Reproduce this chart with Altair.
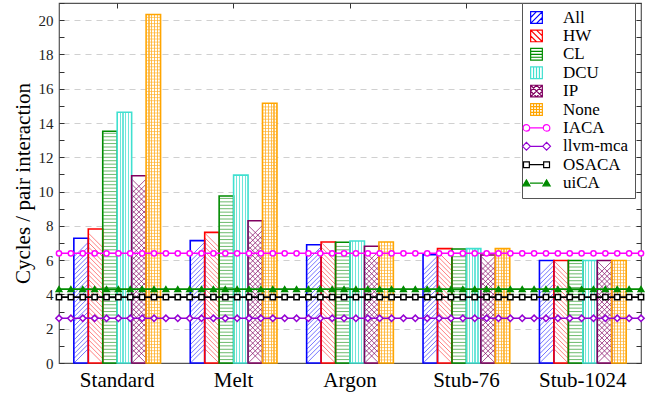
import altair as alt
import pandas as pd

# ---------------- data ----------------
benches = ["Standard", "Melt", "Argon", "Stub-76", "Stub-1024"]
series = ["All", "HW", "CL", "DCU", "IP", "None"]
all_v = [7.28, 7.14, 6.90, 6.32, 5.98]
hw_v = [7.82, 7.62, 7.06, 6.67, 5.98]
cl_v = [13.52, 9.74, 7.04, 6.65, 5.98]
dcu_v = [14.63, 10.96, 7.12, 6.67, 5.98]
ip_v = [10.92, 8.30, 6.81, 6.30, 5.98]
none_v = [20.33, 15.15, 7.06, 6.67, 5.98]

tools = ["IACA", "llvm-mca", "OSACA", "uiCA"]
tool_values = [6.40, 2.61, 3.84, 4.31]
marker_positions = list(range(50))

y_tick_values = list(range(0, 22))

# ---------------- styles ----------------
FONT = "Liberation Serif"
series_colors = ["#0000ff", "#ff0000", "#008b00", "#40e0d0", "#800060", "#ffa500"]
tool_colors = ["#ff00ff", "#9400d3", "#000000", "#008b00"]
names = series + tools
fill_range = ["white"] * 9 + ["#008b00"]

series_vals = [all_v, hw_v, cl_v, dcu_v, ip_v, none_v]
bars_df = pd.DataFrame(
    [{"bench": b, "name": s, "value": vals[i]}
     for s, vals in zip(series, series_vals) for i, b in enumerate(benches)]
)
lines_df = pd.DataFrame(
    [{"name": t, "pos": p, "value": v}
     for t, v in zip(tools, tool_values) for p in marker_positions]
)
legend_df = pd.DataFrame({"name": names})

stroke_scale = alt.Scale(domain=names, range=series_colors + tool_colors)
y_scale = alt.Scale(domain=[0, 21], nice=False, zero=True)
x_scale = alt.Scale(domain=benches, paddingInner=0.255, paddingOuter=0.1275)
off_scale = alt.Scale(domain=series, paddingInner=0, paddingOuter=0)


def fmt(v):
    return f"{v:.3f}".rstrip("0").rstrip(".")


# legend symbol paths (unit = sqrt(size)/2 px)
A = 0.9
SQ = f"M{-A},{-A}H{A}V{A}H{-A}Z"


def seg(x1, y1, x2, y2):
    return f"M{fmt(x1)},{fmt(y1)}L{fmt(x2)},{fmt(y2)}"


def slash(cs):
    out = ""
    for c in cs:
        xa, xb = max(-A, c - A), min(A, c + A)
        out += seg(xa, c - xa, xb, c - xb)
    return out


def bslash(cs):
    out = ""
    for c in cs:
        xa, xb = max(-A, c - A), min(A, c + A)
        out += seg(xa, xa - c, xb, xb - c)
    return out


def hlines(ys):
    return "".join(seg(-A, y, A, y) for y in ys)


def vlines(xs):
    return "".join(seg(x, -A, x, A) for x in xs)


C = 1.55


def circle(cx, r):
    return (f"M{fmt(cx + r)},0A{r},{r} 0 1,0 {fmt(cx - r)},0"
            f"A{r},{r} 0 1,0 {fmt(cx + r)},0Z")


def diamond(cx, r):
    return f"M{fmt(cx - r)},0L{fmt(cx)},{-r}L{fmt(cx + r)},0L{fmt(cx)},{r}Z"


def square(cx, r):
    return f"M{fmt(cx - r)},{-r}H{fmt(cx + r)}V{r}H{fmt(cx - r)}Z"


def tri(cx):
    return f"M{fmt(cx - 0.55)},0.42L{fmt(cx)},-0.5L{fmt(cx + 0.55)},0.42Z"


legend_paths = [
    SQ + slash([-A, 0, A]),
    SQ + bslash([-A, 0, A]),
    SQ + hlines([-A / 2, 0, A / 2]),
    SQ + vlines([-A / 2, 0, A / 2]),
    SQ + slash([-A, 0, A]) + bslash([-A, 0, A]),
    SQ + hlines([-A / 2, 0, A / 2]) + vlines([-A / 2, 0, A / 2]),
    circle(-C, 0.5) + circle(C, 0.5) + f"M{fmt(-C + 0.5)},0H{fmt(C - 0.5)}",
    diamond(-C, 0.6) + diamond(C, 0.6) + f"M{fmt(-C + 0.6)},0H{fmt(C - 0.6)}",
    square(-C, 0.45) + square(C, 0.45) + f"M{fmt(-C + 0.45)},0H{fmt(C - 0.45)}",
    tri(-C) + tri(C) + f"M{fmt(-C + 0.55)},0H{fmt(C - 0.55)}",
]


def stripes(color, cells, w):
    stops = [alt.GradientStop(offset=0, color="white")]
    for k in range(1, cells):
        c = k / cells
        stops += [
            alt.GradientStop(offset=c - w / 2, color="white"),
            alt.GradientStop(offset=c - w / 2, color=color),
            alt.GradientStop(offset=c + w / 2, color=color),
            alt.GradientStop(offset=c + w / 2, color="white"),
        ]
    stops.append(alt.GradientStop(offset=1, color="white"))
    return alt.LinearGradient(gradient="linear", stops=stops, x1=0, x2=1, y1=0, y2=0)


leg = alt.Legend(title=None, orient="none", legendX=463, legendY=0,
                 labelFont=FONT, labelFontSize=17, labelColor="black",
                 symbolSize=169, symbolStrokeWidth=1.2, symbolOpacity=1,
                 labelOffset=18, padding=6, rowPadding=0.4,
                 strokeColor="#555", fillColor="white")

stroke_enc = alt.Stroke("name:N", scale=stroke_scale, legend=leg)

x_none = alt.X("bench:N", scale=x_scale, axis=None)
off = alt.XOffset("name:N", scale=off_scale)
y_none = alt.Y("value:Q", scale=y_scale, axis=None)

base = alt.Chart(bars_df)

bg = base.mark_bar(fill="white", strokeWidth=0).encode(
    x=alt.X("bench:N", scale=x_scale, title=None,
            axis=alt.Axis(orient="bottom", labelAngle=0, labelFont=FONT, labelFontSize=21,
                          labelColor="black", domain=False, tickSize=5, tickColor="#333",
                          offset=-5, labelPadding=6)),
    xOffset=off,
    y=alt.Y("value:Q", scale=y_scale, title="Cycles / pair interaction",
            axis=alt.Axis(orient="left", values=y_tick_values, domain=False, offset=-5,
                          labelFont=FONT, labelFontSize=15, labelColor="#222",
                          labelExpr="datum.value % 2 ? '' : datum.label",
                          tickSize=5, tickColor="#333", labelPadding=6,
                          titleFont=FONT, titleFontSize=21, titleFontWeight="normal",
                          titleColor="black", titlePadding=5,
                          grid=False)),
)

grid_layer = base.mark_bar(fillOpacity=0, strokeWidth=0).encode(
    x=x_none, xOffset=off,
    y=alt.Y("value:Q", scale=y_scale, title=None,
            axis=alt.Axis(orient="right", values=y_tick_values, labels=False, domain=False,
                          ticks=False, grid=True, gridColor="#d0d0d0", gridDash=[6, 5],
                          gridWidth=1.2,
                          gridOpacity={"condition": {"test": "datum.value % 2 == 1 || datum.value == 0",
                                                     "value": 0}, "value": 1})),
)

dcu_stripes = base.transform_filter("datum.name == 'DCU'").mark_bar(
    fill=stripes("#6fe6da", 5, 0.08), strokeWidth=0
).encode(x=x_none, xOffset=off, y=y_none)

none_stripes = base.transform_filter("datum.name == 'None'").mark_bar(
    fill=stripes("#ffc050", 5, 0.08), strokeWidth=0
).encode(x=x_none, xOffset=off, y=y_none)


def hatch(name, path, color, lo, hi, step, size=180, sw=0.8):
    return base.transform_filter(f"datum.name == '{name}'").transform_calculate(
        ys=f"sequence({lo}, datum.value - {hi}, {step})"
    ).transform_flatten(["ys"]).mark_point(
        shape=path, size=size, stroke=color, strokeWidth=sw, opacity=0.85
    ).encode(x=x_none, xOffset=off, y=alt.Y("ys:Q", scale=y_scale, axis=None))


H_SLASH = "M-1,1L1,-1"
H_BSLASH = "M-1,-1L1,1"
H_X = "M-1,1L1,-1M-1,-1L1,1"
H_H = "M-1,0L1,0"

h_all = hatch("All", H_SLASH, "#3333ff", 0.41, 0.41, 0.27)
h_hw = hatch("HW", H_BSLASH, "#ff4444", 0.41, 0.41, 0.27)
h_ip = hatch("IP", H_X, "#800060", 0.41, 0.41, 0.3)
h_cl = hatch("CL", H_H, "#2a9a2a", 0.2, 0.1, 0.2)
h_none = hatch("None", H_H, "#ffb030", 0.18, 0.09, 0.18)

outline = base.mark_bar(fillOpacity=0, strokeWidth=1.6).encode(
    x=alt.X("bench:N", scale=x_scale, title=None,
            axis=alt.Axis(orient="top", labels=False, domain=False, tickSize=5,
                          tickColor="#333", offset=-5)),
    xOffset=off,
    y=alt.Y("value:Q", scale=y_scale, title=None,
            axis=alt.Axis(orient="right", values=y_tick_values, labels=False, domain=False,
                          tickSize=5, tickColor="#333", grid=False, offset=-5)),
    stroke=stroke_enc,
)

bars = alt.layer(grid_layer, bg, dcu_stripes, none_stripes, h_all, h_hw, h_ip, h_cl, h_none, outline)

xq = alt.X("pos:Q", scale=alt.Scale(domain=[0, 49], nice=False, zero=False), axis=None)
lbase = alt.Chart(lines_df)
line = lbase.mark_line(strokeWidth=1.6).encode(x=xq, y=y_none, stroke=stroke_enc)


def pts(name, shape, size, fill):
    return lbase.transform_filter(f"datum.name == '{name}'").mark_point(
        shape=shape, size=size, filled=True, fill=fill, strokeWidth=1.5, opacity=1
    ).encode(x=xq, y=y_none, stroke=stroke_enc)


lines = alt.layer(
    line,
    pts("IACA", "circle", 28, "white"),
    pts("llvm-mca", "diamond", 40, "white"),
    pts("OSACA", "square", 28, "white"),
    pts("uiCA", "triangle-up", 32, "#008b00"),
)

helper = alt.Chart(legend_df).transform_filter("false").mark_point(
    filled=True, size=169, strokeWidth=1.2, opacity=1
).encode(
    shape=alt.Shape("name:N", scale=alt.Scale(domain=names, range=legend_paths), legend=leg),
    fill=alt.Fill("name:N", scale=alt.Scale(domain=names, range=fill_range), legend=leg),
    stroke=stroke_enc,
)

chart = alt.layer(bars, lines, helper).resolve_scale(x="independent").properties(
    width=582, height=360,
    autosize=alt.AutoSizeParams(type="none"),
    padding={"left": 59, "top": 3, "right": 18, "bottom": 31},
).configure_view(stroke="#555", strokeWidth=1.2)

chart.save("out.html", embed_options={"renderer": "svg", "actions": False})
